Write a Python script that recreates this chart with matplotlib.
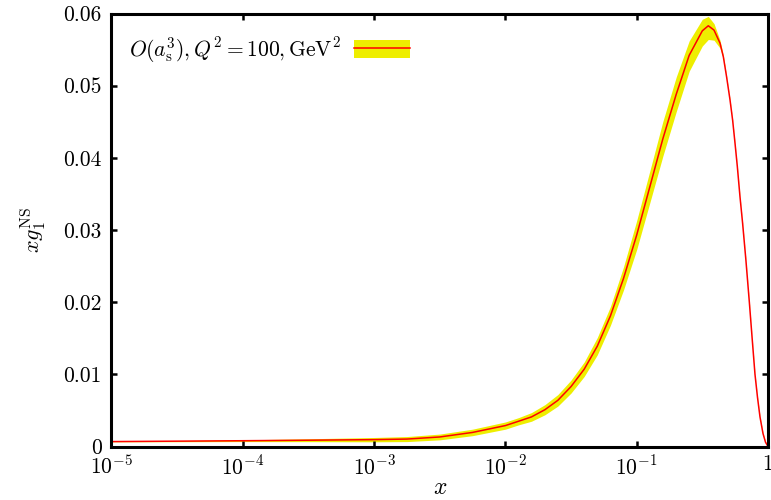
#!/usr/bin/env python3
"""
Non-singlet xg1 at Q^2 = 100 GeV^2 (NNLO) with its uncertainty band.
"""
import matplotlib
matplotlib.use("Agg")
import matplotlib.pyplot as plt
from matplotlib.patches import Patch
from matplotlib.lines import Line2D

# x grid and xg1^NS: central value plus lower/upper edges of the band
x = [1e-5, 3.16e-5, 1e-4, 3.16e-4, 1e-3, 1.78e-3, 3.16e-3, 5.62e-3,
     0.01, 0.0126, 0.0158, 0.02, 0.0251, 0.0316, 0.0398, 0.0501,
     0.0631, 0.0794, 0.1, 0.126, 0.158, 0.2, 0.251, 0.316,
     0.351, 0.388, 0.431, 0.457, 0.484, 0.514,
     0.538, 0.561, 0.584, 0.612, 0.641, 0.679, 0.721, 0.755,
     0.796, 0.832, 0.869, 0.916, 0.957, 1.0]
xg1 = [0.00068, 0.00074, 0.00080, 0.00087, 0.00095, 0.00103, 0.00132, 0.00195,
       0.0029, 0.0035, 0.0041, 0.0051, 0.0064, 0.0083, 0.0107, 0.0139,
       0.0181, 0.0233, 0.0293, 0.0360, 0.0426, 0.0488, 0.0542, 0.0576,
       0.0583, 0.0577, 0.0559, 0.0540, 0.0512, 0.0480,
       0.0452, 0.0420, 0.0388, 0.0346, 0.0309, 0.0258, 0.0200, 0.0153,
       0.0100, 0.0068, 0.0041, 0.0018, 0.0006, 0.0]
xg1_lo = [0.00065, 0.00066, 0.00068, 0.00067, 0.00065, 0.00068, 0.00092, 0.0015,
          0.0024, 0.0030, 0.0035, 0.0044, 0.0056, 0.0074, 0.0097, 0.0127,
          0.0168, 0.0217, 0.0273, 0.0338, 0.0402, 0.0464, 0.0520, 0.0555,
          0.0564, 0.0563, 0.0552, 0.0537, 0.0511, 0.0479,
          0.0451, 0.0419, 0.0387, 0.0345, 0.0308, 0.0257, 0.0199, 0.0152,
          0.0099, 0.0067, 0.0040, 0.0017, 0.0005, 0.0]
xg1_hi = [0.00071, 0.00082, 0.00092, 0.00107, 0.00125, 0.00138, 0.00172, 0.0024,
          0.0034, 0.0040, 0.0047, 0.0058, 0.0072, 0.0092, 0.0117, 0.0151,
          0.0194, 0.0249, 0.0313, 0.0382, 0.0450, 0.0512, 0.0562, 0.0592,
          0.0596, 0.0586, 0.0563, 0.0542, 0.0513, 0.0481,
          0.0453, 0.0421, 0.0389, 0.0347, 0.0310, 0.0259, 0.0201, 0.0154,
          0.0101, 0.0069, 0.0042, 0.0019, 0.0007, 0.0]

yticks = [0, 0.01, 0.02, 0.03, 0.04, 0.05, 0.06]
ytick_labels = ["0", "0.01", "0.02", "0.03", "0.04", "0.05", "0.06"]
xticks = [1e-5, 1e-4, 1e-3, 1e-2, 1e-1, 1]
xtick_labels = [r"$10^{-5}$", r"$10^{-4}$", r"$10^{-3}$", r"$10^{-2}$", r"$10^{-1}$", "1"]

plt.rcParams["font.family"] = "serif"
plt.rcParams["font.serif"] = ["cmr10"]
plt.rcParams["mathtext.fontset"] = "cm"
plt.rcParams["axes.unicode_minus"] = False

band_col = "#eeee00"
line_col = "#ff0000"

fig = plt.figure(figsize=(7.71, 5.0), dpi=100)
ax = fig.add_axes([0.1446, 0.107, 0.8515, 0.866])

ax.fill_between(x, xg1_lo, xg1_hi, color=band_col, lw=0, zorder=1)
ax.plot(x, xg1, color=line_col, lw=1.1, zorder=2)

ax.set_xscale("log")
ax.set_xlim(1e-5, 1)
ax.set_ylim(0, 0.06)
ax.set_xticks(xticks)
ax.set_xticklabels(xtick_labels)
ax.xaxis.set_minor_locator(matplotlib.ticker.NullLocator())
ax.set_yticks(yticks)
ax.set_yticklabels(ytick_labels)

ax.tick_params(which="both", direction="in", top=True, right=True,
               length=4.5, width=1.8, labelsize=15.5)
ax.tick_params(axis="y", pad=7)
ax.tick_params(axis="x", pad=6)
for s in ax.spines.values():
    s.set_linewidth(2.2)

ax.set_xlabel(r"$x$", fontsize=17, labelpad=-1)
ax.set_ylabel(r"$xg_1^{\mathrm{NS}}$", fontsize=16, labelpad=11)

handle = (Patch(facecolor=band_col, edgecolor="none"),
          Line2D([], [], color=line_col, lw=1.1))
ax.legend([handle], [r"$O(a_{\mathrm{s}}^3), Q^2 = 100, \mathrm{GeV}^2$"],
          loc="upper left", bbox_to_anchor=(0.004, 0.985), frameon=False,
          markerfirst=False, fontsize=15.5, handlelength=2.6, handleheight=0.9,
          handletextpad=0.6, borderaxespad=0.3)

fig.savefig("out.png", dpi=100)
